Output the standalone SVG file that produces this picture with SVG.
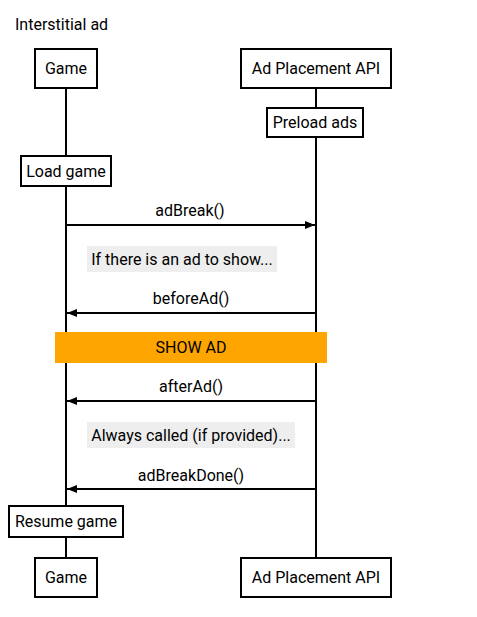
<svg xmlns="http://www.w3.org/2000/svg" width="477" height="617" viewBox="0 0 477 617">
<defs>
<style>
text{font-family:Roboto,"Liberation Sans",sans-serif;font-size:16px;fill:#000}
.c{text-anchor:middle}
.box{fill:#fff;stroke:#000;stroke-width:2}
.life{stroke:#000;stroke-width:2;fill:none}
.msg{stroke:#000;stroke-width:2;fill:none}
.note{fill:#eeeeee}
</style>
<marker id="ah" viewBox="0 0 10 8" refX="10" refY="4" markerWidth="10" markerHeight="8" markerUnits="userSpaceOnUse" orient="auto">
<path d="M0,0 L10,4 L0,8 Z" fill="#000"/>
</marker>
</defs>
<rect width="477" height="617" fill="#fff"/>
<text x="15" y="30">Interstitial ad</text>
<g id="lifelines">
<line class="life" x1="66" y1="88" x2="66" y2="558"/>
<line class="life" x1="316" y1="88" x2="316" y2="558"/>
</g>
<g id="show-ad">
<rect x="55" y="332" width="272" height="31" fill="#FFA500"/>
<text class="c" x="191" y="353">SHOW AD</text>
</g>
<g id="game-top"><rect class="box" x="35" y="49" width="62" height="39"/><text class="c" x="66" y="74">Game</text></g>
<g id="api-top"><rect class="box" x="241" y="49" width="150" height="39"/><text class="c" x="316" y="74">Ad Placement API</text></g>
<g id="preload"><rect class="box" x="267" y="108" width="96" height="29"/><text class="c" x="315" y="128">Preload ads</text></g>
<g id="load-game"><rect class="box" x="21" y="156" width="90" height="30"/><text class="c" x="66" y="177">Load game</text></g>
<g id="note1"><rect class="note" x="87" y="246" width="190" height="26"/><text class="c" x="182" y="265">If there is an ad to show...</text></g>
<g id="note2"><rect class="note" x="87" y="422" width="208" height="26"/><text class="c" x="191" y="441">Always called (if provided)...</text></g>
<g id="resume-game"><rect class="box" x="9" y="506" width="114" height="31"/><text class="c" x="66" y="527">Resume game</text></g>
<g id="game-bottom"><rect class="box" x="35" y="558" width="62" height="39"/><text class="c" x="66" y="583">Game</text></g>
<g id="api-bottom"><rect class="box" x="241" y="558" width="150" height="39"/><text class="c" x="316" y="583">Ad Placement API</text></g>
<g id="connectors">
<line class="msg" x1="66" y1="225" x2="315" y2="225" marker-end="url(#ah)"/>
<text class="c" x="190" y="216">adBreak()</text>
<line class="msg" x1="316" y1="313" x2="67" y2="313" marker-end="url(#ah)"/>
<text class="c" x="191" y="304">beforeAd()</text>
<line class="msg" x1="316" y1="401" x2="67" y2="401" marker-end="url(#ah)"/>
<text class="c" x="191" y="392">afterAd()</text>
<line class="msg" x1="316" y1="489" x2="67" y2="489" marker-end="url(#ah)"/>
<text class="c" x="191" y="481">adBreakDone()</text>
</g>
</svg>
